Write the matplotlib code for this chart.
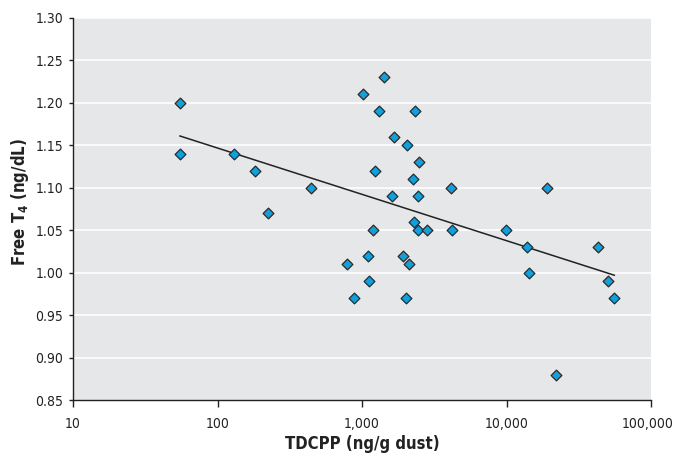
import matplotlib
matplotlib.use("Agg")
import matplotlib.pyplot as plt
from matplotlib.ticker import FixedLocator, NullLocator
from matplotlib.transforms import ScaledTranslation
import numpy as np

plt.rcParams['font.family'] = ['DejaVu Sans Condensed', 'DejaVu Sans']
plt.rcParams['font.stretch'] = 'condensed'

tdcpp = [55, 55, 130, 182, 224, 444, 1420, 1016, 1311, 2327, 1665, 2049, 2480, 1230,
         2253, 1613, 2442, 4130, 19060, 2290, 1191, 2442, 2805, 4197, 9870, 783, 1101,
         1914, 2104, 1124, 885, 2015, 13870, 14390, 21900, 43200, 50700, 55700]
free_t4 = [1.20, 1.14, 1.14, 1.12, 1.07, 1.10, 1.23, 1.21, 1.19, 1.19, 1.16, 1.15, 1.13, 1.12,
           1.11, 1.09, 1.09, 1.10, 1.10, 1.06, 1.05, 1.05, 1.05, 1.05, 1.05, 1.01, 1.02,
           1.02, 1.01, 0.99, 0.97, 0.97, 1.03, 1.00, 0.88, 1.03, 0.99, 0.97]
trend_x = [55, 55700]
trend_y = [1.161, 0.997]

x_ticks = [10, 100, 1000, 10000, 100000]
x_ticklabels = ['10', '100', '1,000', '10,000', '100,000']
y_ticks = [0.85, 0.90, 0.95, 1.00, 1.05, 1.10, 1.15, 1.20, 1.25, 1.30]

fig = plt.figure(figsize=(6.74, 4.58), dpi=100)
ax = fig.add_axes([73/674, 1 - 400/458, (651-73)/674, (400-18)/458])
ax.set_facecolor('#e6e7e8')
ax.set_xscale('log')
ax.set_xlim(10, 100000)
ax.set_ylim(0.85, 1.30)

for y in y_ticks[1:]:
    ax.axhline(y, color='white', lw=1.2, zorder=1)

ax.plot(trend_x, trend_y, color='#222222', lw=1.1, zorder=2)
ax.scatter(tdcpp, free_t4, marker='D', s=30, facecolor='#12a0dc', edgecolor='#2a2a2a',
           linewidths=0.9, zorder=3)

ax.xaxis.set_major_locator(FixedLocator(x_ticks))
ax.xaxis.set_minor_locator(NullLocator())
ax.set_xticklabels(x_ticklabels)
ax.set_yticks(y_ticks)
ax.set_yticklabels([f'{v:.2f}' for v in y_ticks])

for s in ['top', 'right']:
    ax.spines[s].set_visible(False)
for s in ['left', 'bottom']:
    ax.spines[s].set_color('#222222')
    ax.spines[s].set_linewidth(1.0)

ax.tick_params(axis='x', direction='out', length=5, width=1, color='#222222',
               labelsize=10, labelcolor='#222222', pad=7)
ax.tick_params(axis='y', direction='out', length=3, width=1, color='#222222',
               labelsize=10, labelcolor='#222222', pad=4)

last = ax.get_xticklabels()[-1]
last.set_transform(last.get_transform() + ScaledTranslation(-3/100, 0, fig.dpi_scale_trans))

ax.set_xlabel('TDCPP (ng/g dust)', fontsize=12, fontweight='bold', color='#222222', labelpad=3)
ax.set_ylabel('Free T$_\\mathbf{4}$ (ng/dL)', fontsize=12, fontweight='bold', color='#222222')
ax.yaxis.set_label_coords((31 - 73) / 578, (400 - 202) / 382)

fig.savefig('out.png', dpi=100)
